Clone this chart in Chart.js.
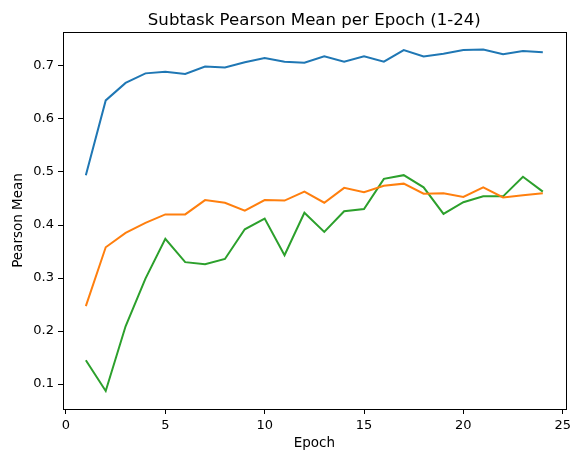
<!DOCTYPE html>
<html>
<head>
<meta charset="utf-8">
<script src="https://cdn.jsdelivr.net/npm/chart.js@4.4.1/dist/chart.umd.min.js"></script>
<style>
  html, body { margin: 0; padding: 0; background: #fff; }
  #wrap { width: 575px; height: 452px; }
</style>
</head>
<body>
<div id="wrap"><canvas id="pearsonChart" width="575" height="452"></canvas></div>
<script>
const epochs = [1,2,3,4,5,6,7,8,9,10,11,12,13,14,15,16,17,18,19,20,21,22,23,24];
const serieAzul = [0.494,0.635,0.668,0.686,0.689,0.685,0.699,0.697,0.707,0.715,0.708,0.706,
                   0.718,0.708,0.718,0.708,0.730,0.718,0.723,0.730,0.731,0.722,0.728,0.726];
const serieNaranja = [0.247,0.358,0.385,0.404,0.420,0.420,0.447,0.442,0.427,0.447,0.446,0.463,
                      0.442,0.470,0.462,0.474,0.478,0.459,0.460,0.453,0.471,0.452,0.456,0.460];
const serieVerde = [0.145,0.087,0.209,0.299,0.374,0.330,0.326,0.336,0.392,0.412,0.343,0.423,
                    0.387,0.426,0.430,0.487,0.494,0.471,0.421,0.443,0.454,0.454,0.491,0.463];
const xTicks = [0,5,10,15,20,25];
const yTicks = [0.1,0.2,0.3,0.4,0.5,0.6,0.7];
const titulo = "Subtask Pearson Mean per Epoch (1-24)";

const FONT = "'DejaVu Sans', sans-serif";

function toPoints(vals) {
  return epochs.map((e, i) => ({ x: e, y: vals[i] }));
}

// caja completa estilo matplotlib + titulo centrado sobre el area
const marcoPlugin = {
  id: "marco",
  afterDraw(chart) {
    const { ctx, chartArea: a } = chart;
    ctx.save();
    ctx.strokeStyle = "#000";
    ctx.lineWidth = 1;
    ctx.strokeRect(Math.round(a.left) + 0.5, Math.round(a.top) + 0.5,
                   Math.round(a.right - a.left), Math.round(a.bottom - a.top));
    ctx.fillStyle = "#000";
    ctx.font = "16.6px " + FONT;
    ctx.textAlign = "center";
    ctx.textBaseline = "alphabetic";
    ctx.fillText(titulo, (a.left + a.right) / 2, a.top - 7);
    ctx.restore();
  }
};

const ejeComun = {
  type: "linear",
  grid: { display: true, drawOnChartArea: false, drawTicks: true, tickLength: 5, color: "#000" },
  border: { display: true, color: "#000" },
  ticks: { color: "#000", font: { family: FONT, size: 13 }, padding: 4 }
};

new Chart(document.getElementById("pearsonChart").getContext("2d"), {
  type: "line",
  data: {
    datasets: [
      { data: toPoints(serieAzul), borderColor: "#1f77b4" },
      { data: toPoints(serieNaranja), borderColor: "#ff7f0e" },
      { data: toPoints(serieVerde), borderColor: "#2ca02c" }
    ].map(d => Object.assign(d, { borderWidth: 2, pointRadius: 0, tension: 0, fill: false }))
  },
  options: {
    responsive: false,
    animation: false,
    devicePixelRatio: 1,
    layout: { padding: { top: 32, right: 6, bottom: 0, left: 0 } },
    plugins: { legend: { display: false }, tooltip: { enabled: false }, title: { display: false } },
    scales: {
      x: {
        ...ejeComun,
        min: -0.15,
        max: 25.15,
        afterBuildTicks: s => { s.ticks = xTicks.map(v => ({ value: v })); },
        afterFit: s => { s.height = 43; },
        title: { display: true, text: "Epoch", color: "#000", font: { family: FONT, size: 13.5 }, padding: { top: 2, bottom: 0 } }
      },
      y: {
        ...ejeComun,
        min: 0.053,
        max: 0.764,
        afterBuildTicks: s => { s.ticks = yTicks.map(v => ({ value: v })); },
        afterFit: s => { s.width = 63; },
        ticks: { ...ejeComun.ticks, callback: v => v.toFixed(1) },
        title: { display: true, text: "Pearson Mean", color: "#000", font: { family: FONT, size: 13.5 }, padding: { top: 10, bottom: 0 } }
      }
    }
  },
  plugins: [marcoPlugin]
});
</script>
</body>
</html>
